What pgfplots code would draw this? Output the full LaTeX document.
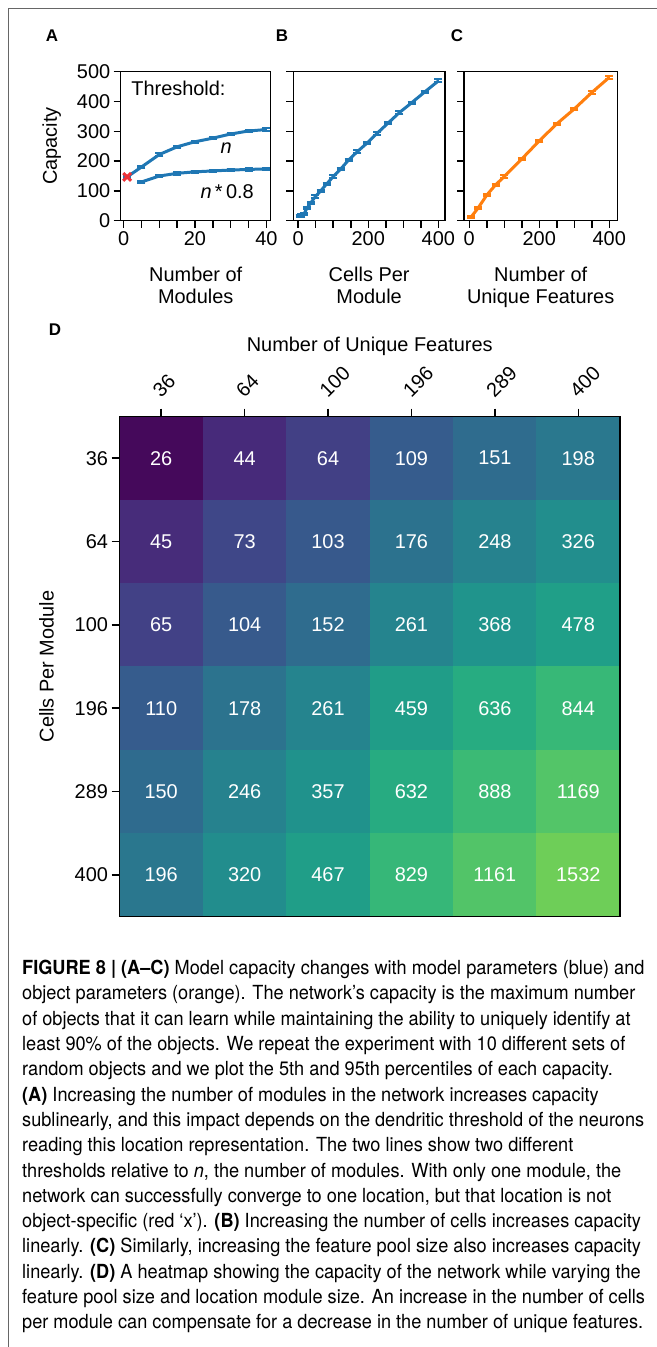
\documentclass[border=0pt]{standalone}
\usepackage{fontspec}
\setmainfont{Liberation Sans}
\newfontfamily\capfont[FakeStretch=0.935]{TeX Gyre Heros}
\usepackage{pgfplots}
\usepackage{pgfplotstable}
\pgfplotsset{compat=1.18}
\definecolor{tabblue}{HTML}{1F77B4}
\definecolor{taborange}{HTML}{FF7F0E}
\definecolor{xred}{HTML}{EE3338}

\pgfplotstableread{
x y e
1 147 3
5 180 4
10 222 4
15 248 4
20 265 4
25 277 4
30 291 4
35 301 4
40 306 4
}\Aone
\pgfplotstableread{
x y e
5 130 4
10 150 4
15 159 4
20 164 4
25 167 4
30 170 4
35 172 4
40 174 4
}\Atwo
\pgfplotstableread{
x y e
4 15 4
9 17 4
16 22 4
25 42 4
36 60 4
49 81 4
64 100 4
81 123 4
100 148 4
121 173 4
144 204 4
169 232 4
196 260 4
225 293 4
256 327 4
289 363 4
324 396 4
361 432 4
400 469 5
}\Bdata
\pgfplotstableread{
x y e
5 12 4
25 42 4
50 86 4
75 120 4
100 148 4
150 207 4
200 268 4
250 325 4
300 375 4
350 430 4
400 481 4
}\Cdata
\pgfplotstableread{
x y v
0 0 26
1 0 44
2 0 64
3 0 109
4 0 151
5 0 198
0 1 45
1 1 73
2 1 103
3 1 176
4 1 248
5 1 326
0 2 65
1 2 104
2 2 152
3 2 261
4 2 368
5 2 478
0 3 110
1 3 178
2 3 261
3 3 459
4 3 636
5 3 844
0 4 150
1 4 246
2 4 357
3 4 632
4 4 888
5 4 1169
0 5 196
1 5 320
2 5 467
3 5 829
4 5 1161
5 5 1532
}\Heat

\newcommand\fs{\fontsize{20}{22}\selectfont}

\pgfplotsset{
  panel/.style={
    scale only axis, height=149bp,
    ymin=0, ymax=500, ytick={0,100,...,500},
    tick align=outside, xtick pos=left, ytick pos=left,
    major tick length=7bp,
    axis line style={line width=1.5bp},
    tick style={line width=1.5bp, black},
    tick label style={font=\fs},
    label style={font=\fs, align=center},
    xlabel shift=15bp, ylabel shift=9bp,
    /pgf/number format/assume math mode=true,
    clip=false,
  },
  err/.style={line width=3bp, mark=none,
    error bars/.cd, y dir=both, y explicit,
    error bar style={line width=1.6bp},
    error mark options={rotate=90, mark size=4bp, line width=2bp}},
}

\begin{document}
\begin{tikzpicture}
\path[use as bounding box] (0,0) rectangle (657bp,-1347bp);
\draw[black!60, line width=1.2bp] (8.5bp,-1347bp) -- (8.5bp,-8.5bp) -- (657bp,-8.5bp);

\node[font=\bfseries\fontsize{17}{17}\selectfont] at (52bp,-36bp) {A};
\node[font=\bfseries\fontsize{17}{17}\selectfont] at (282bp,-36bp) {B};
\node[font=\bfseries\fontsize{17}{17}\selectfont] at (457bp,-36bp) {C};
\node[font=\bfseries\fontsize{17}{17}\selectfont] at (55bp,-330bp) {D};

\begin{axis}[panel, at={(120.7bp,-220.7bp)}, anchor=south west, width=150bp,
  xmin=-0.8, xmax=41.2, xtick={0,5,...,40}, xticklabels={0,,,,20,,,,40},
  ylabel={Capacity}, xlabel={Number of\\Modules}]
\addplot[xred, only marks, mark=x, mark size=5.5bp, line width=3bp] coordinates {(1,147)};
\addplot[tabblue, err] table[x=x,y=y,y error=e] {\Aone};
\addplot[tabblue, err] table[x=x,y=y,y error=e] {\Atwo};
\node[anchor=west, font=\fs] at (axis cs:1.2,445) {Threshold:};
\node[font=\fs\itshape] at (axis cs:28.7,243) {n};
\node[font=\fs] at (axis cs:29,97) {{\itshape n}\,*\,0.8};
\end{axis}

\begin{axis}[panel, at={(293.3bp,-220.7bp)}, anchor=south west, width=151.7bp,
  xmin=-14, xmax=419, xtick={0,50,...,400}, xticklabels={0,,,,200,,,,400},
  yticklabels={}, xlabel={Cells Per\\Module}]
\addplot[tabblue, err] table[x=x,y=y,y error=e] {\Bdata};
\end{axis}

\begin{axis}[panel, at={(464bp,-220.7bp)}, anchor=south west, width=153.3bp,
  xmin=-15, xmax=423, xtick={0,50,...,400}, xticklabels={0,,,,200,,,,400},
  yticklabels={}, xlabel={Number of\\Unique Features}]
\addplot[taborange, err] table[x=x,y=y,y error=e] {\Cdata};
\end{axis}

\begin{axis}[at={(119.5bp,-916.5bp)}, anchor=south west, scale only axis,
  width=500.5bp, height=500bp, xmin=-0.5, xmax=5.5, ymin=-0.5, ymax=5.5, y dir=reverse,
  axis on top, enlargelimits=false,
  colormap/viridis, point meta min=3.15, point meta max=8.51,
  xtick={0,...,5}, ytick={0,...,5},
  xticklabels={36,64,100,196,289,400}, yticklabels={36,64,100,196,289,400},
  xtick pos=right, xticklabel pos=right, ytick pos=left,
  tick align=outside, major tick length=8bp,
  axis line style={line width=1.5bp}, tick style={line width=1.5bp, black},
  tick label style={font=\fs},
  xticklabel style={rotate=45, anchor=south west},
  xticklabel shift=5bp,
  label style={font=\fs},
  xlabel={Number of Unique Features}, ylabel={Cells Per Module},
  xlabel style={at={(axis description cs:0.5,1)}, anchor=center, yshift=70.5bp},
  ylabel shift=14bp,
]
\addplot[matrix plot*, mesh/cols=6, point meta={ln(\thisrow{v})}] table[x=x,y=y] {\Heat};
\addplot[draw=none, mark=none, nodes near coords, point meta=explicit symbolic,
  nodes near coords style={anchor=center, text=white, font=\fs}] table[x=x,y=y,meta=v] {\Heat};
\end{axis}

\node[anchor=north west, inner sep=0pt, align=left, font=\capfont\fontsize{19.5}{25.4}\selectfont] at (22bp,-960bp) {%
{\bfseries FIGURE 8 | (A–C)} Model capacity changes with model parameters (blue) and\\
object parameters (orange). The network’s capacity is the maximum number\\
of objects that it can learn while maintaining the ability to uniquely identify at\\
least 90\% of the objects. We repeat the experiment with 10 different sets of\\
random objects and we plot the 5th and 95th percentiles of each capacity.\\
{\bfseries (A)} Increasing the number of modules in the network increases capacity\\
sublinearly, and this impact depends on the dendritic threshold of the neurons\\
reading this location representation. The two lines show two different\\
thresholds relative to \textit{n}, the number of modules. With only one module, the\\
network can successfully converge to one location, but that location is not\\
object-specific (red ‘x’). {\bfseries (B)} Increasing the number of cells increases capacity\\
linearly. {\bfseries (C)} Similarly, increasing the feature pool size also increases capacity\\
linearly. {\bfseries (D)} A heatmap showing the capacity of the network while varying the\\
feature pool size and location module size. An increase in the number of cells\\
per module can compensate for a decrease in the number of unique features.};
\end{tikzpicture}
\end{document}
